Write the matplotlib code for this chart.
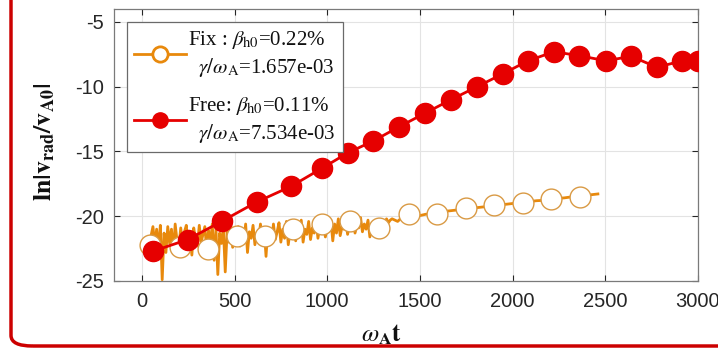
import numpy as np
import matplotlib
matplotlib.use("Agg")
import matplotlib.pyplot as plt
from matplotlib.lines import Line2D
from matplotlib.patches import FancyBboxPatch

# ---------------- data ----------------
# Free boundary (red filled markers)
free_t = [60, 248, 430, 620, 804, 971, 1112, 1247, 1387, 1527, 1668, 1808,
          1948, 2083, 2223, 2358, 2504, 2639, 2779, 2914, 3000]
free_v = [-22.7, -21.8, -20.4, -18.9, -17.7, -16.3, -15.1, -14.2, -13.1, -12.05,
          -11.0, -10.0, -9.0, -8.0, -7.3, -7.6, -8.0, -7.65, -8.5, -8.0, -8.0]

# Fixed boundary: dense noisy trace
fix_t = np.concatenate([np.arange(40, 1360, 10), np.arange(1380, 2480, 30)])
fix_v = [
    -22.3, -21.5, -20.8, -22.2, -21.0, -22.6, -20.7, -24.9, -21.3, -22.8,
    -20.8, -22.1, -21.0, -22.9, -20.6, -21.9, -22.4, -20.9, -22.2, -21.2,
    -20.7, -22.5, -21.3, -23.0, -20.9, -21.8, -22.3, -20.7, -22.0, -21.4,
    -20.8, -22.6, -21.1, -22.2, -20.6, -23.4, -21.0, -24.5, -21.3, -22.1,
    -20.9, -24.3, -21.2, -22.0, -20.7, -22.4, -21.1, -21.8, -20.8, -22.3,
    -21.0, -22.0, -20.6, -22.8, -21.2, -21.7, -20.7, -22.2, -21.3, -21.9,
    -20.6, -22.1, -21.0, -23.1, -20.9, -21.6, -22.0, -20.6, -21.8, -21.2,
    -20.5, -22.0, -21.0, -21.7, -20.4, -22.2, -21.1, -21.6, -20.5, -21.9,
    -20.8, -21.5, -20.3, -22.0, -21.0, -21.4, -20.4, -21.8, -20.9, -21.3,
    -20.3, -21.7, -20.8, -21.2, -20.4, -21.6, -20.9, -21.1, -20.3, -21.9,
    -20.6, -21.3, -20.2, -21.5, -20.8, -21.0, -20.3, -21.4, -20.6, -21.1,
    -20.2, -21.3, -20.7, -20.9, -20.1, -21.2, -20.6, -21.0, -20.3, -21.6,
    -20.8, -21.2, -20.5, -20.9, -20.3, -20.8, -20.4, -20.6, -20.2, -20.5,
    -20.3, -20.2,
    -20.4, -20.0, -20.3, -19.9, -19.95, -19.85, -19.8, -19.75, -19.7, -19.6,
    -19.55, -19.5, -19.45, -19.4, -19.35, -19.3, -19.25, -19.2, -19.15, -19.1,
    -19.05, -19.0, -18.95, -18.9, -18.85, -18.8, -18.78, -18.72, -18.68, -18.62,
    -18.58, -18.52, -18.48, -18.43, -18.38, -18.33, -18.28,
]
# Fixed boundary markers (open circles)
fix_mt = [43, 205, 356, 512, 664, 815, 971, 1122, 1280, 1441, 1592, 1748,
          1900, 2056, 2207, 2364]
fix_mv = [-22.2, -22.4, -22.5, -21.5, -21.5, -21.0, -20.6, -20.4, -20.9, -19.85,
          -19.8, -19.4, -19.1, -19.0, -18.7, -18.5]

xticks = [0, 500, 1000, 1500, 2000, 2500, 3000]
yticks = [-25, -20, -15, -10, -5]

fix_label = 'Fix : $\\beta_{\\rm h0}$=0.22%\n  $\\gamma/\\omega_{\\rm A}$=1.657e-03'
free_label = 'Free: $\\beta_{\\rm h0}$=0.11%\n  $\\gamma/\\omega_{\\rm A}$=7.534e-03'

# ---------------- style ----------------
plt.rcParams['mathtext.fontset'] = 'stix'
plt.rcParams['axes.unicode_minus'] = False
orange = '#E8890C'
orange_edge = '#D99A45'
red = '#E60000'

fig = plt.figure(figsize=(7.18, 3.52), dpi=100)
ax = fig.add_axes([114/718, 1-281/352, 584/718, 272/352])

ax.plot(fix_t, fix_v, color=orange, lw=2.0, zorder=3)
ax.plot(fix_mt, fix_mv, ls='none', marker='o', ms=15, mfc='white',
        mec=orange_edge, mew=1.0, zorder=4)
ax.plot(free_t, free_v, color=red, lw=2.0, marker='o', ms=14.5, mfc=red,
        mec=red, zorder=5)

ax.set_xlim(-150, 3000)
ax.set_ylim(-25, -4)
ax.set_xticks(xticks)
ax.set_yticks(yticks)
ax.tick_params(direction='in', length=4, top=True, right=True,
               labelsize=14.5, colors='#262626', width=0.8)
for lab in ax.get_xticklabels() + ax.get_yticklabels():
    lab.set_family('Liberation Sans')
ax.tick_params(axis='x', pad=8)
ax.tick_params(axis='y', pad=7)
ax.grid(True, color='#e3e3e3', lw=0.8)
ax.set_axisbelow(True)
for s in ax.spines.values():
    s.set_color('#7a7a7a')
    s.set_linewidth(0.9)

ax.set_ylabel('$\\mathbf{ln|v_{rad}/v_{A0}|}$', fontsize=18.5, color='#111111')
ax.yaxis.set_label_coords(-0.097, 0.51)
ax.set_xlabel('$\\omega_{\\mathbf{A}}\\mathbf{t}$', fontsize=18, color='#111111')
ax.xaxis.set_label_coords(0.458, -0.155)

h_fix = Line2D([], [], color=orange, lw=2.0, marker='o', ms=11, mfc='white',
               mec=orange, mew=2.0)
h_free = Line2D([], [], color=red, lw=2.0, marker='o', ms=11, mfc=red, mec=red)
leg = ax.legend([h_fix, h_free], [fix_label, free_label], loc='upper left',
                bbox_to_anchor=(0.022, 0.952), borderaxespad=0, fancybox=False,
                framealpha=1, edgecolor='#6a6a6a', handlelength=2.5,
                prop={'family': 'Liberation Serif', 'size': 15},
                labelspacing=0.8, borderpad=0.35, handletextpad=0.1)
leg.get_frame().set_linewidth(0.9)
for t in leg.get_texts():
    t.set_color('#111111')
    t.set_linespacing(1.25)

# red rounded frame around figure
frame = FancyBboxPatch((11/718, 6/352), 1.2, 1.2,
                       boxstyle='round,pad=0,rounding_size=0.03',
                       transform=fig.transFigure, fill=False,
                       edgecolor='#CC0000', lw=2.5, clip_on=False)
fig.patches.append(frame)

fig.savefig('out.png', dpi=100)
